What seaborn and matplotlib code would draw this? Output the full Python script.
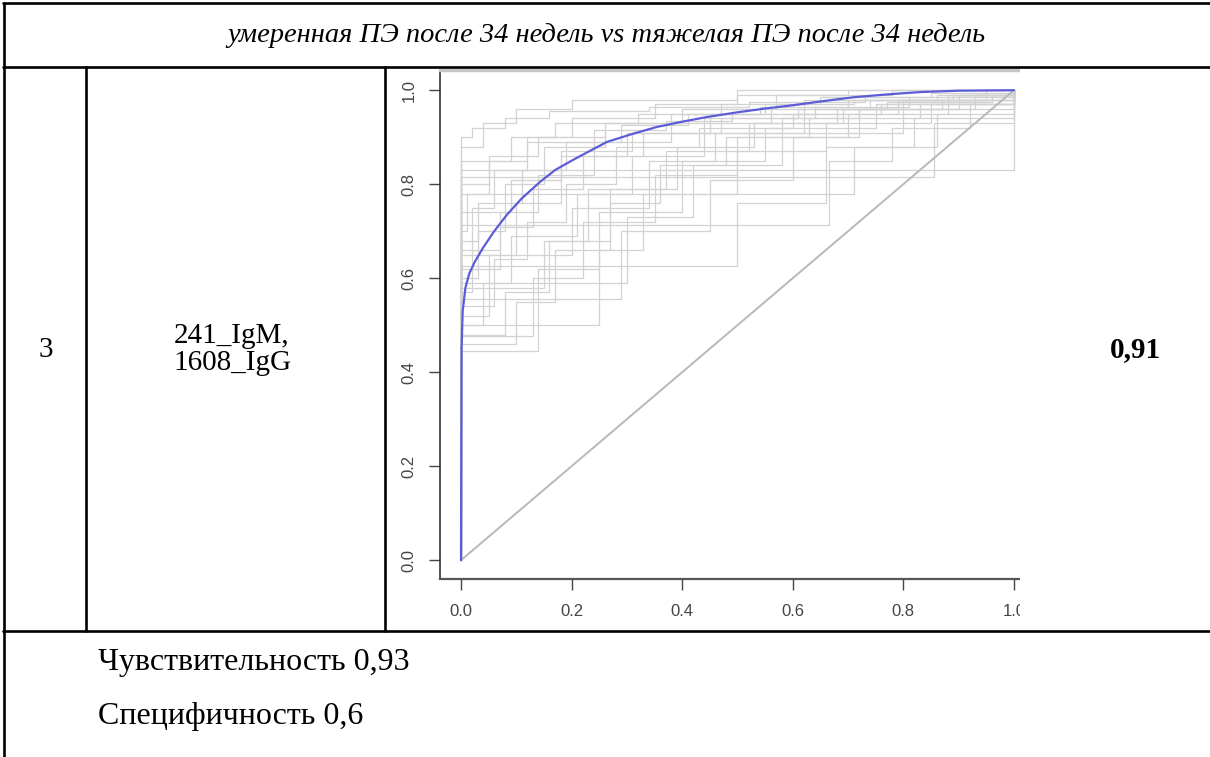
import matplotlib
matplotlib.use('Agg')
import matplotlib.pyplot as plt
import pandas as pd
import seaborn as sns
from matplotlib.lines import Line2D
from matplotlib.patches import Rectangle

W, H = 1210, 757

header = 'умеренная ПЭ после 34 недель vs тяжелая ПЭ после 34 недель'
row_no = '3'
marker_names = '241_IgM,\n1608_IgG'
auc_text = '0,91'
sens_text = 'Чувствительность 0,93'
spec_text = 'Специфичность 0,6'

# averaged ROC curve (blue)
mean_fpr = [0, 0.001, 0.003, 0.008, 0.015, 0.025, 0.04, 0.06, 0.083, 0.11, 0.143,
            0.17, 0.203, 0.235, 0.264, 0.31, 0.355, 0.40, 0.445, 0.5, 0.55, 0.6,
            0.65, 0.71, 0.77, 0.83, 0.9, 1.0]
mean_tpr = [0, 0.45, 0.53, 0.58, 0.61, 0.635, 0.665, 0.70, 0.735, 0.77, 0.805,
            0.83, 0.852, 0.872, 0.89, 0.907, 0.922, 0.933, 0.943, 0.953, 0.961, 0.968,
            0.976, 0.985, 0.991, 0.996, 0.999, 1.0]

# individual ROC curves (grey steps)
fold_fpr = [
    [0, 0.14, 0.25, 0.40, 0.55, 0.75, 1.0],
    [0, 0.13, 0.22, 0.35, 0.50, 0.70, 0.88, 1.0],
    [0, 0.25, 0.33, 0.50, 0.66, 0.85, 1.0],
    [0, 0.29, 0.45, 0.60, 0.72, 1.0],
    [0, 0.30, 0.42, 0.58, 0.80, 1.0],
    [0, 0.50, 0.66, 0.82, 1.0],
    [0, 0.665, 0.78, 0.92, 1.0],
    [0, 0.71, 0.86, 1.0],
    [0, 0.855, 1.0],
    [0, 1.0],
    [0, 0.05, 0.10, 0.18, 0.30, 0.45, 0.62, 1.0],
    [0, 0.03, 0.08, 0.15, 0.26, 0.40, 0.57, 0.78, 1.0],
    [0, 0.02, 0.06, 0.12, 0.20, 0.35, 0.50, 0.70, 1.0],
    [0, 0.04, 0.10, 0.20, 0.50, 1.0],
    [0, 0.08, 0.16, 0.23, 0.37, 0.52, 0.68, 0.90, 1.0],
    [0, 0.06, 0.12, 0.19, 0.28, 0.43, 0.60, 0.76, 1.0],
    [0, 0.01, 0.05, 0.09, 0.17, 0.32, 0.47, 0.65, 0.85, 1.0],
    [0, 0.02, 0.07, 0.14, 0.24, 0.38, 0.56, 0.74, 0.95, 1.0],
    [0, 0.10, 0.17, 0.27, 0.36, 0.48, 0.63, 0.83, 1.0],
    [0, 0.04, 0.09, 0.21, 0.31, 0.44, 0.58, 0.72, 0.93, 1.0],
    [0, 0.15, 0.27, 0.39, 0.53, 0.69, 0.87, 1.0],
    [0, 0.20, 0.34, 0.46, 0.62, 0.79, 1.0],
    [0, 0.07, 0.13, 0.22, 0.33, 0.47, 0.64, 0.81, 1.0],
    [0, 0.03, 0.11, 0.19, 0.29, 0.41, 0.55, 0.71, 0.89, 1.0],
    [0, 0.09, 0.18, 0.31, 0.44, 0.61, 0.77, 0.96, 1.0],
    [0, 0.05, 0.14, 0.26, 0.38, 0.54, 0.70, 0.86, 1.0],
    [0, 0.12, 0.24, 0.37, 0.49, 0.64, 0.79, 0.93, 1.0],
    [0, 0.02, 0.08, 0.16, 0.34, 0.52, 0.73, 1.0],
]
fold_tpr = [
    [0.445, 0.62, 0.74, 0.85, 0.92, 0.97, 1.0],
    [0.476, 0.60, 0.72, 0.82, 0.90, 0.95, 0.99, 1.0],
    [0.50, 0.66, 0.78, 0.87, 0.93, 0.97, 1.0],
    [0.555, 0.70, 0.81, 0.90, 0.96, 1.0],
    [0.59, 0.73, 0.84, 0.91, 0.98, 1.0],
    [0.625, 0.76, 0.88, 0.94, 1.0],
    [0.714, 0.85, 0.92, 0.97, 1.0],
    [0.78, 0.88, 0.95, 1.0],
    [0.815, 0.93, 1.0],
    [0.83, 1.0],
    [0.52, 0.65, 0.76, 0.86, 0.91, 0.95, 0.98, 1.0],
    [0.60, 0.70, 0.80, 0.88, 0.93, 0.96, 0.99, 1.0, 1.0],
    [0.66, 0.75, 0.83, 0.90, 0.94, 0.97, 0.99, 1.0, 1.0],
    [0.88, 0.93, 0.96, 0.98, 1.0, 1.0],
    [0.48, 0.57, 0.68, 0.79, 0.87, 0.93, 0.96, 0.99, 1.0],
    [0.54, 0.64, 0.72, 0.80, 0.88, 0.92, 0.95, 0.97, 1.0],
    [0.70, 0.78, 0.85, 0.90, 0.93, 0.95, 0.97, 0.985, 0.995, 1.0],
    [0.57, 0.66, 0.74, 0.82, 0.89, 0.93, 0.96, 0.98, 1.0, 1.0],
    [0.46, 0.55, 0.66, 0.76, 0.84, 0.90, 0.94, 0.97, 1.0],
    [0.50, 0.59, 0.69, 0.78, 0.86, 0.91, 0.94, 0.96, 0.99, 1.0],
    [0.58, 0.68, 0.79, 0.88, 0.93, 0.96, 0.98, 1.0],
    [0.65, 0.75, 0.85, 0.91, 0.95, 0.98, 1.0],
    [0.62, 0.71, 0.79, 0.86, 0.91, 0.94, 0.965, 0.985, 1.0],
    [0.68, 0.76, 0.83, 0.89, 0.925, 0.95, 0.97, 0.98, 0.99, 1.0],
    [0.74, 0.81, 0.87, 0.91, 0.94, 0.96, 0.975, 0.99, 1.0],
    [0.80, 0.86, 0.90, 0.93, 0.95, 0.965, 0.98, 0.99, 1.0],
    [0.85, 0.89, 0.915, 0.935, 0.95, 0.96, 0.975, 0.99, 1.0],
    [0.90, 0.92, 0.94, 0.955, 0.965, 0.975, 0.985, 1.0],
]

diag = [0.0, 1.0]
ticks = [0.0, 0.2, 0.4, 0.6, 0.8, 1.0]
tick_labels = ['0.0', '0.2', '0.4', '0.6', '0.8', '1.0']

sns.set_theme(style='white')
plt.rcParams['font.family'] = ['Liberation Serif', 'DejaVu Serif']
plt.rcParams['text.color'] = 'black'

fig = plt.figure(figsize=(W / 100, H / 100), dpi=100)


def fx(x):
    return x / W


def fy(y):
    return 1 - y / H


# ROC plot
ax = fig.add_axes([fx(440), fy(579), (1020 - 440) / W, (579 - 70) / H])
rows = []
for i, (xs, ys) in enumerate(zip(fold_fpr, fold_tpr)):
    rows.append({'fold': i, 'fpr': 0.0, 'tpr': 0.0})
    for x, y in zip(xs, ys):
        rows.append({'fold': i, 'fpr': x, 'tpr': y})
folds = pd.DataFrame(rows)
sns.lineplot(data=folds, x='fpr', y='tpr', units='fold', estimator=None, sort=False,
             drawstyle='steps-post', color='#d2d2d2', lw=0.9, ax=ax)
sns.lineplot(x=diag, y=diag, color='#b8b8b8', lw=1.4, ax=ax)
sns.lineplot(x=mean_fpr, y=mean_tpr, sort=False, color='#5c5cd8', lw=1.6, ax=ax)

ax.set_xlim(-0.038, 1.011)
ax.set_ylim(-0.04, 1.043)
ax.set_xticks(ticks, tick_labels)
ax.set_yticks(ticks, tick_labels)
ax.set_xlabel('')
ax.set_ylabel('')
ax.tick_params(axis='both', direction='out', length=8, width=1, color='#444',
               labelsize=12, labelcolor='#444', left=True, bottom=True)
ax.tick_params(axis='x', pad=10)
ax.tick_params(axis='y', pad=9)
for lbl in ax.get_xticklabels() + ax.get_yticklabels():
    lbl.set_family(['Liberation Sans', 'DejaVu Sans'])
for lbl in ax.get_yticklabels():
    lbl.set_rotation(90)
    lbl.set_va('center')
ax.spines['right'].set_visible(False)
ax.spines['top'].set_color('#c8c8c8')
ax.spines['top'].set_linewidth(2.5)
ax.spines['left'].set_color('#333333')
ax.spines['left'].set_linewidth(1.2)
ax.spines['bottom'].set_color('#555555')
ax.spines['bottom'].set_linewidth(1.6)

# cover the part of the picture cut off by the table cell
fig.add_artist(Rectangle((fx(1020), fy(629)), (W - 1020) / W, (629 - 69) / H,
                         transform=fig.transFigure, facecolor='white',
                         edgecolor='none', zorder=5))


# table grid
def hline(y, x0=3, x1=W):
    fig.add_artist(Line2D([fx(x0), fx(x1)], [fy(y), fy(y)], transform=fig.transFigure,
                          color='black', lw=1.9, zorder=6))


def vline(x, y0, y1):
    fig.add_artist(Line2D([fx(x), fx(x)], [fy(y0), fy(y1)], transform=fig.transFigure,
                          color='black', lw=1.9, zorder=6))


hline(3)
hline(67)
hline(631)
vline(4, 3, H)
vline(86, 67, 631)
vline(385, 67, 631)

# cell texts
fig.text(fx(606), fy(35), header, style='italic', fontsize=20.5, ha='center',
         va='center', zorder=7)
fig.text(fx(46), fy(350), row_no, fontsize=21, ha='center', va='center', zorder=7)
fig.text(fx(232), fy(350), marker_names, fontsize=21, ha='center', va='center',
         linespacing=1.05, zorder=7)
fig.text(fx(1135), fy(350), auc_text, fontsize=21, weight='bold', ha='center',
         va='center', zorder=7)
fig.text(fx(98), fy(670), sens_text, fontsize=23, ha='left', va='baseline', zorder=7)
fig.text(fx(98), fy(724), spec_text, fontsize=23, ha='left', va='baseline', zorder=7)

fig.savefig('out.png', dpi=100)
